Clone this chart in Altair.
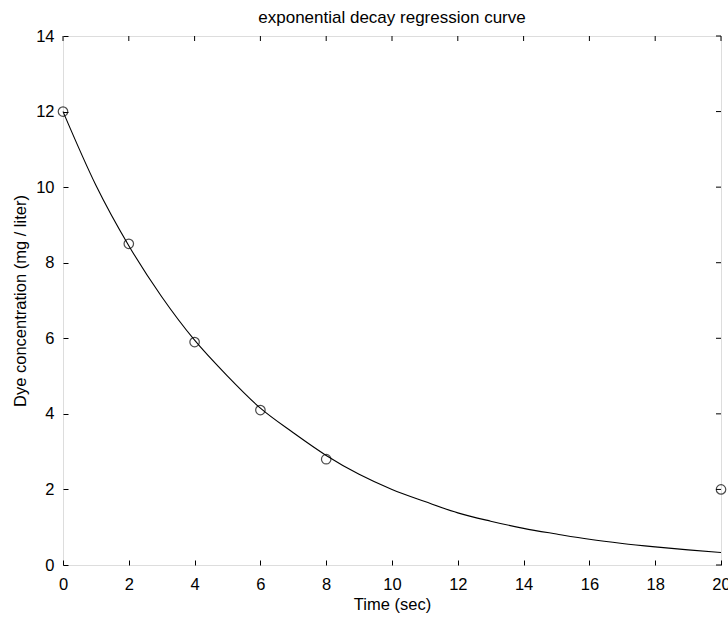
import altair as alt
import pandas as pd

# measured data points
t_obs = [0, 2, 4, 6, 8, 20]
c_obs = [12.0, 8.5, 5.9, 4.1, 2.8, 2.0]

# regression curve
t_fit = [0, 1, 2, 3, 4, 5, 6, 7, 8, 9, 10, 11, 12, 13, 14, 15, 16, 17, 18, 19, 20]
c_fit = [12.0, 10.05, 8.45, 7.1, 5.95, 5.0, 4.15, 3.5, 2.9, 2.4, 2.0, 1.68, 1.38,
         1.16, 0.97, 0.82, 0.68, 0.57, 0.48, 0.40, 0.33]

x_ticks = [0, 2, 4, 6, 8, 10, 12, 14, 16, 18, 20]
y_ticks = [0, 2, 4, 6, 8, 10, 12, 14]

obs = pd.DataFrame({"t": t_obs, "c": c_obs})
fit = pd.DataFrame({"t": t_fit, "c": c_fit})

FONT = "Liberation Sans"
FS = 16.5
W, H = 658, 529

xs = alt.Scale(domain=[0, 20], nice=False, zero=False)
ys = alt.Scale(domain=[0, 14], nice=False, zero=False)

x_axis = alt.Axis(values=x_ticks, title="Time (sec)", offset=-5, tickSize=5,
                  domain=False, grid=False, labelPadding=11, titlePadding=4,
                  labelFont=FONT, labelFontSize=FS, titleFont=FONT,
                  titleFontSize=FS, titleFontWeight="normal", labelColor="black",
                  titleColor="black", tickColor="black", labelFlush=False)
y_axis = alt.Axis(values=y_ticks, title="Dye concentration (mg / liter)", offset=-5,
                  tickSize=5, domain=False, grid=False, labelPadding=9,
                  titlePadding=7, labelFont=FONT, labelFontSize=FS,
                  titleFont=FONT, titleFontSize=FS, titleFontWeight="normal",
                  labelColor="black", titleColor="black", tickColor="black")

curve = alt.Chart(fit).mark_line(color="black", strokeWidth=1.1,
                                 interpolate="monotone").encode(
    x=alt.X("t:Q", scale=xs, axis=x_axis),
    y=alt.Y("c:Q", scale=ys, axis=y_axis),
)

points = alt.Chart(obs).mark_point(shape="circle", filled=False, color="black",
                                   size=90, strokeWidth=1.2).encode(
    x=alt.X("t:Q", scale=xs),
    y=alt.Y("c:Q", scale=ys),
)

top_ticks = alt.Chart(pd.DataFrame({"t": x_ticks})).mark_rule(color="black").encode(
    x=alt.X("t:Q", scale=xs), y=alt.value(0), y2=alt.value(5))
right_ticks = alt.Chart(pd.DataFrame({"c": y_ticks})).mark_rule(color="black").encode(
    y=alt.Y("c:Q", scale=ys), x=alt.value(W - 5), x2=alt.value(W))

chart = alt.layer(curve, points, top_ticks, right_ticks).properties(
    width=W, height=H,
    title=alt.TitleParams("exponential decay regression curve", font=FONT,
                          fontSize=17, fontWeight="normal", color="black",
                          offset=1, anchor="middle"),
    autosize=alt.AutoSizeParams(type="none"),
    padding={"left": 63, "top": 36, "right": 7, "bottom": 53},
).configure_view(stroke="black", strokeWidth=1.2).configure(background="white")

chart.save("out.html", embed_options={"renderer": "svg", "actions": False})
